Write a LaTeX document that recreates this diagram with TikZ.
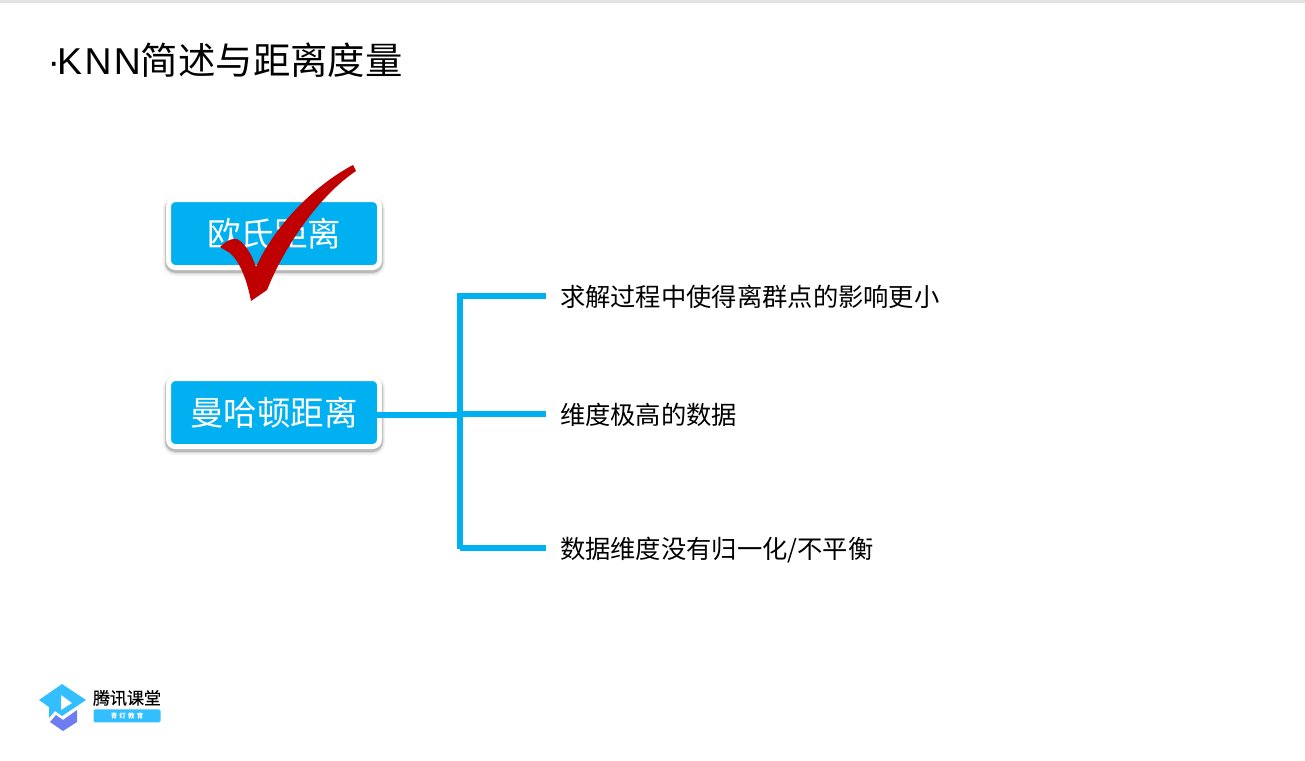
\documentclass[tikz,border=0pt]{standalone}
\usepackage{fontspec}
\setmainfont{Noto Sans CJK SC}
\newfontfamily\latinfont[LetterSpace=6.5]{Liberation Sans}
\newfontfamily\logofont[FakeBold=0.5]{Noto Sans CJK SC}
\usepackage{xcolor}
\usetikzlibrary{positioning}
\definecolor{boxblue}{HTML}{00B0F0}
\definecolor{checkred}{HTML}{C00000}
\definecolor{logoblue}{HTML}{33BFFF}
\definecolor{logoviolet}{HTML}{6D7DF0}

\begin{document}
\begin{tikzpicture}[
    x=1pt, y=-1pt,
    node distance=111pt and 14pt,
    distbox/.style={draw=white, line width=5pt, fill=boxblue, rounded corners=7pt,
                    minimum width=211pt, minimum height=68pt, outer sep=0pt,
                    text=white, font=\fontsize{33.5}{36}\selectfont,
                    preaction={draw=black, draw opacity=0.05, line width=11pt,
                               transform canvas={yshift=-3pt}},
                    preaction={draw=black, draw opacity=0.10, line width=8pt,
                               transform canvas={yshift=-2.5pt}},
                    preaction={draw=black, draw opacity=0.15, line width=6.5pt,
                               transform canvas={yshift=-2pt}}},
    item/.style={anchor=west, inner xsep=14pt, inner ysep=0pt, outer sep=0pt,
                 text height=24pt, text depth=3pt,
                 font=\fontsize{25.3}{28}\selectfont},
    branch/.style={draw=boxblue, line width=6pt},
  ]
  \useasboundingbox (0,0) rectangle (1305,760);
  \fill[black!11] (0,0) rectangle (1305,3);
  % Slide title
  \node[anchor=west, inner sep=0pt, font=\fontsize{37.4}{40}\selectfont] (title)
        at (47.5,60.5) {{\latinfont ·\kern-3pt KNN}简述与距离度量};
  % The two distances
  \node[distbox] (euclid) at (274,233.5) {欧氏距离};
  \node[distbox, below=of euclid] (manhattan) {曼哈顿距离};
  % Cases
  \node[item] (outlier) at (546,296) {求解过程中使得离群点的影响更小};
  \node[item] (highdim) at (546,414) {维度极高的数据};
  \node[item] (unscaled) at (546,548) {数据维度没有归一化/不平衡};
  % Tree
  \coordinate (trunktop) at (460,293);
  \coordinate (trunkbot) at (460,549);
  \draw[branch, shorten <=-2.5pt] ([yshift=-2.5pt]manhattan.east) -- ([yshift=-2.5pt]trunktop|-manhattan.east);
  \draw[branch] (trunktop) -- (trunkbot);
  \draw[branch] (trunktop|-outlier.west) -- (outlier.west);
  \draw[branch] (trunktop|-highdim.west) -- (highdim.west);
  \draw[branch] (trunktop|-unscaled.west) -- (unscaled.west);
  % Tick over the first box
  \fill[checkred] (353,165) -- (356,171) .. controls (320,195) and (285,245) .. (267,290)
    -- (251,301) .. controls (247,280) and (240,262) .. (230,253) -- (220,247)
    .. controls (226,241) and (232,238) .. (237,239)
    .. controls (245,243) and (252,255) .. (256,267)
    .. controls (275,225) and (315,185) .. cycle;
  % Logo
  \fill[logoviolet] (50,722) -- (56,715) -- (63,720) -- (77,710) -- (77,722) -- (63,731) -- cycle;
  \fill[logoblue] (39,700) -- (62,684) -- (86,700) -- (62,716) -- (55,711) -- (49,718) -- (49,707) -- cycle;
  \fill[white] (61,695) -- (72,703) -- (61,710) -- cycle;
  \node[inner sep=0pt, font=\logofont\fontsize{17}{18}\selectfont] (logoname) at (127,698) {腾讯课堂};
  \node[below=3pt of logoname, fill=logoblue, rounded corners=1.5pt, minimum width=67pt,
        minimum height=13pt, inner sep=0pt, text=white, font=\bfseries\fontsize{6.5}{7}\selectfont] (logotag)
        {青\,\,灯\,\,教\,\,育};
\end{tikzpicture}
\end{document}
